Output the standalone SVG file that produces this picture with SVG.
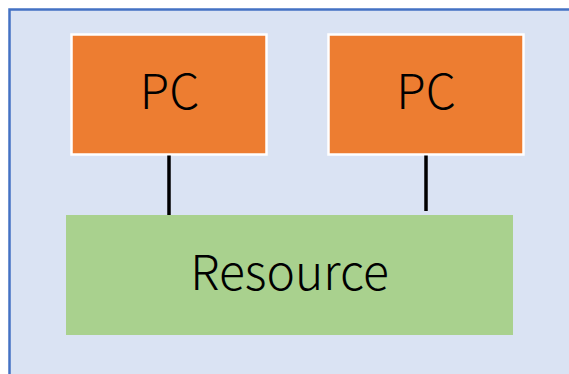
<svg xmlns="http://www.w3.org/2000/svg" width="569" height="374" viewBox="0 0 569 374">
<style>
.pc{fill:#ED7D31;stroke:#FFFFFF;stroke-width:2.5}
.lbl{font-family:"Noto Sans CJK JP","Noto Sans",sans-serif;font-size:48px;font-weight:300;fill:#000;text-anchor:middle}
.conn{stroke:#000;stroke-width:3.5;fill:none}
</style>
<rect x="0" y="0" width="569" height="374" fill="#FFFFFF"/>
<g id="panel">
<rect x="9.5" y="9.5" width="580" height="380" fill="#DAE3F3" stroke="#4472C4" stroke-width="2.5"/>
</g>
<g id="pc1">
<rect class="pc" x="71.5" y="34.5" width="195" height="120"/>
<text class="lbl" x="169.5" y="109">PC</text>
</g>
<g id="pc2">
<rect class="pc" x="328.5" y="34.5" width="195" height="120"/>
<text class="lbl" x="426" y="109">PC</text>
</g>
<g id="resource">
<rect x="66" y="215" width="447" height="120" fill="#A9D18E"/>
<text class="lbl" x="289.5" y="290">Resource</text>
</g>
<g id="connectors">
<line class="conn" x1="169" y1="155.5" x2="169" y2="215"/>
<line class="conn" x1="426" y1="155.5" x2="426" y2="211"/>
</g>
</svg>
